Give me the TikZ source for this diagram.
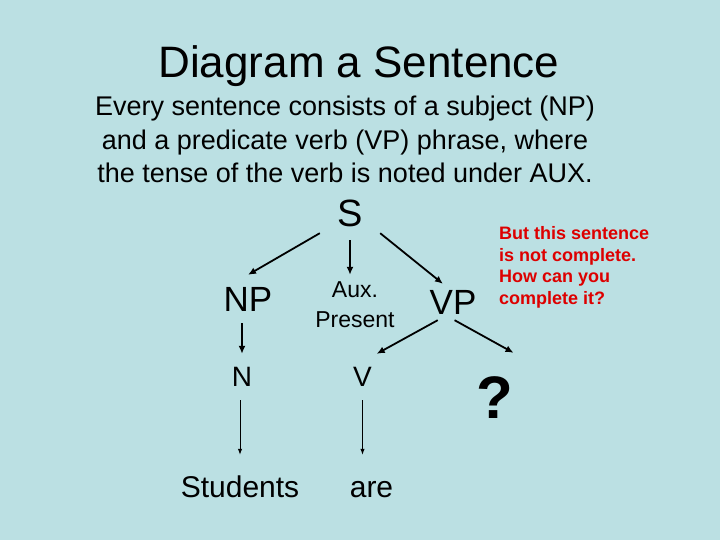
\documentclass[tikz,border=0pt]{standalone}
\usepackage{fontspec}
\setmainfont{Liberation Sans}
\usepackage{tikz}
\usetikzlibrary{arrows.meta}
\definecolor{slidebg}{RGB}{187,224,227}
\definecolor{notered}{RGB}{221,0,0}

\begin{document}
\begin{tikzpicture}[x=1pt,y=-1pt,
  word/.style={inner sep=0pt},
  branch/.style={line width=1.8pt,-{Latex[length=8pt,width=7pt]}},
  leaf/.style={line width=1pt,-{Latex[length=6pt,width=4.5pt]}}]
 \fill[slidebg] (0,0) rectangle (720,540);
 \draw (359,78) node[word,anchor=base,font=\fontsize{44}{50}\selectfont] (title) {Diagram a Sentence};
 \draw (345,139.5) node[word,align=center,font=\fontsize{27}{33.5}\selectfont] (intro)
   {Every sentence consists of a subject (NP)\\ and a predicate verb (VP) phrase, where\\ the tense of the verb is noted under AUX.};

 \draw (350,213) node[word,minimum width=60pt,minimum height=40pt,font=\fontsize{38}{44}\selectfont] (S) {S};
  \draw (248,299) node[word,minimum width=50pt,minimum height=48pt,font=\fontsize{35}{40}\selectfont] (NP) {NP};
  \draw (355,305) node[word,align=center,minimum height=60pt,font=\fontsize{23}{30}\selectfont] (aux) {Aux.\\Present};
  \draw (453,302) node[word,minimum width=50pt,minimum height=36pt,font=\fontsize{35}{40}\selectfont] (VP) {VP};
   \draw (242,377) node[word,minimum height=46pt,font=\fontsize{28}{32}\selectfont] (N) {N};
   \draw (362.5,377) node[word,minimum width=28pt,minimum height=46pt,font=\fontsize{28}{32}\selectfont] (V) {V};
   \draw (495,398) node[word,minimum width=24pt,minimum height=90pt,font=\fontsize{60}{66}\selectfont\bfseries] (q) {?};
	\draw (240,486) node[word,minimum height=62pt,text height=22pt,text depth=0pt,font=\fontsize{30}{34}\selectfont] (students) {Students};
	\draw (371.5,486) node[word,minimum height=62pt,text height=22pt,text depth=0pt,font=\fontsize{30}{34}\selectfont] (are) {are};
 \draw (499,267.5) node[word,anchor=west,align=left,text=notered,font=\fontsize{18}{21.5}\selectfont\bfseries] (note)
   {But this sentence\\ is not complete.\\ How can you\\ complete it?};

     \path[branch] (S.south west) edge (NP.north);
     \path[branch,shorten <=7pt] (S.south) edge (S.south |- aux.north);
     \path[branch] (S.south east) edge (VP.119);
     \path[branch] (N.north |- NP.south) edge (N.north);
     \path[branch] (VP.230) edge (V.north east);
     \path[branch] (VP.275) edge (q.north east);
     \path[leaf] (N.south -| students.north) edge (students.north);
     \path[leaf] (V.south) edge (V.south |- are.north);
\end{tikzpicture}
\end{document}
